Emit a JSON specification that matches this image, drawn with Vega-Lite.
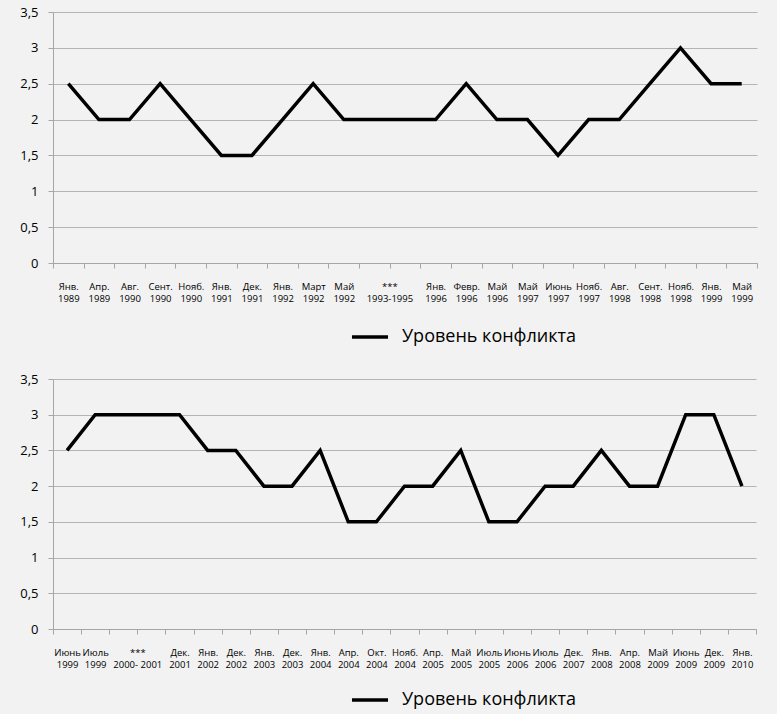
{
  "$schema": "https://vega.github.io/schema/vega-lite/v6.json",
  "background": "#f2f2f2",
  "padding": {"left": 8, "top": 6, "right": 20, "bottom": 5},
  "spacing": 27,
  "config": {
    "font": "Open Sans",
    "view": {"stroke": null},
    "axis": {"domainColor": "#a6a6a6", "tickColor": "#a6a6a6", "gridColor": "#b4b4b4", "labelColor": "#000000"},
    "legend": {"labelFontSize": 18, "labelLimit": 0, "labelColor": "#000000", "symbolType": "stroke", "symbolStrokeWidth": 3.5, "symbolSize": 1300, "labelOffset": 12, "labelFont": "Open Sans"}
  },
  "vconcat": [
    {
      "width": 704,
      "height": 251,
      "data": {"values": [
        {"label": "Янв.|1989", "level": 2.5},
        {"label": "Апр.|1989", "level": 2},
        {"label": "Авг.|1990", "level": 2},
        {"label": "Сент.|1990", "level": 2.5},
        {"label": "Нояб.|1990", "level": 2},
        {"label": "Янв.|1991", "level": 1.5},
        {"label": "Дек.|1991", "level": 1.5},
        {"label": "Янв.|1992", "level": 2},
        {"label": "Март|1992", "level": 2.5},
        {"label": "Май|1992", "level": 2},
        {"label": "***|1993-1995", "level": 2},
        {"label": "", "level": 2},
        {"label": "Янв.|1996", "level": 2},
        {"label": "Февр.|1996", "level": 2.5},
        {"label": "Май|1996", "level": 2},
        {"label": "Май|1997", "level": 2},
        {"label": "Июнь|1997", "level": 1.5},
        {"label": "Нояб.|1997", "level": 2},
        {"label": "Авг.|1998", "level": 2},
        {"label": "Сент.|1998", "level": 2.5},
        {"label": "Нояб.|1998", "level": 3},
        {"label": "Янв.|1999", "level": 2.5},
        {"label": "Май|1999", "level": 2.5}
      ]},
      "mark": {"type": "line", "strokeWidth": 3.5, "strokeJoin": "miter"},
      "encoding": {
        "x": {
          "field": "label", "type": "ordinal", "sort": null, "bandPosition": 0.5,
          "scale": {"type": "band", "paddingInner": 0, "paddingOuter": 0},
          "axis": {
            "title": null, "labelAngle": 0, "tickBand": "extent", "tickSize": 5,
            "labelFontSize": 9.5, "labelPadding": 13, "labelLineHeight": 12,
            "labelOverlap": false, "labelBound": false,
            "labelExpr": "split(datum.label, '|')",
            "labelOffset": {"condition": {"test": "datum.value === '***|1993-1995'", "value": 15}, "value": 0}
          }
        },
        "y": {
          "field": "level", "type": "quantitative",
          "scale": {"domain": [0, 3.5], "nice": false},
          "axis": {
            "title": null, "values": [0, 0.5, 1, 1.5, 2, 2.5, 3, 3.5],
            "labelExpr": "replace(format(datum.value, '.1~f'), '.', ',')",
            "labelFontSize": 13, "tickSize": 5, "labelPadding": 10,
            "minExtent": 45, "maxExtent": 45
          }
        },
        "color": {
          "datum": "Уровень конфликта",
          "scale": {"range": ["#000000"]},
          "legend": {"title": null, "orient": "none", "legendX": 297, "legendY": 305}
        }
      }
    },
    {
      "width": 703,
      "height": 250,
      "data": {"values": [
        {"label": "Июнь|1999", "level": 2.5},
        {"label": "Июль|1999", "level": 3},
        {"label": "***|2000- 2001", "level": 3},
        {"label": "", "level": 3},
        {"label": "Дек.|2001", "level": 3},
        {"label": "Янв.|2002", "level": 2.5},
        {"label": "Дек.|2002", "level": 2.5},
        {"label": "Янв.|2003", "level": 2},
        {"label": "Дек.|2003", "level": 2},
        {"label": "Янв.|2004", "level": 2.5},
        {"label": "Апр.|2004", "level": 1.5},
        {"label": "Окт.|2004", "level": 1.5},
        {"label": "Нояб.|2004", "level": 2},
        {"label": "Апр.|2005", "level": 2},
        {"label": "Май|2005", "level": 2.5},
        {"label": "Июль|2005", "level": 1.5},
        {"label": "Июнь|2006", "level": 1.5},
        {"label": "Июль|2006", "level": 2},
        {"label": "Дек.|2007", "level": 2},
        {"label": "Янв.|2008", "level": 2.5},
        {"label": "Апр.|2008", "level": 2},
        {"label": "Май|2009", "level": 2},
        {"label": "Июнь|2009", "level": 3},
        {"label": "Дек.|2009", "level": 3},
        {"label": "Янв.|2010", "level": 2}
      ]},
      "mark": {"type": "line", "strokeWidth": 3.5, "strokeJoin": "miter"},
      "encoding": {
        "x": {
          "field": "label", "type": "ordinal", "sort": null, "bandPosition": 0.5,
          "scale": {"type": "band", "paddingInner": 0, "paddingOuter": 0},
          "axis": {
            "title": null, "labelAngle": 0, "tickBand": "extent", "tickSize": 5,
            "labelFontSize": 9.5, "labelPadding": 13, "labelLineHeight": 12,
            "labelOverlap": false, "labelBound": false,
            "labelExpr": "split(datum.label, '|')",
            "labelOffset": {"condition": {"test": "datum.value === '***|2000- 2001'", "value": 14}, "value": 0}
          }
        },
        "y": {
          "field": "level", "type": "quantitative",
          "scale": {"domain": [0, 3.5], "nice": false},
          "axis": {
            "title": null, "values": [0, 0.5, 1, 1.5, 2, 2.5, 3, 3.5],
            "labelExpr": "replace(format(datum.value, '.1~f'), '.', ',')",
            "labelFontSize": 13, "tickSize": 5, "labelPadding": 10,
            "minExtent": 45, "maxExtent": 45
          }
        },
        "color": {
          "datum": "Уровень конфликта",
          "scale": {"range": ["#000000"]},
          "legend": {"title": null, "orient": "none", "legendX": 297, "legendY": 301}
        }
      }
    }
  ],
  "resolve": {"scale": {"color": "independent"}, "legend": {"color": "independent"}}
}
